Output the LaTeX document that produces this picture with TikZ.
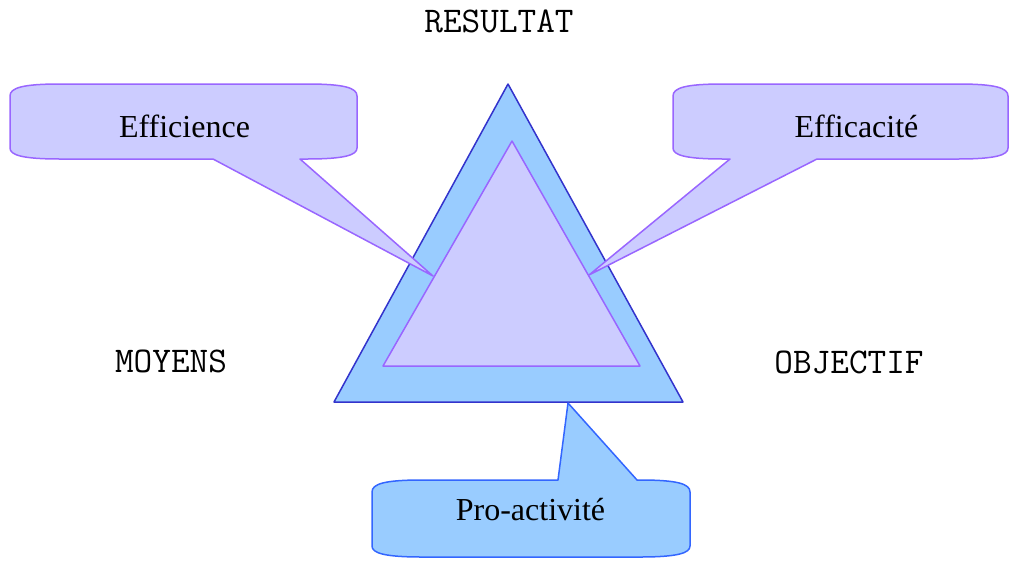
\documentclass[tikz,border=0pt]{standalone}
\usepackage{fontspec}
\setmainfont{Liberation Serif}
\definecolor{outerfill}{HTML}{99CCFF}
\definecolor{outerline}{HTML}{3333CC}
\definecolor{innerfill}{HTML}{CCCCFF}
\definecolor{innerline}{HTML}{9966FF}
\definecolor{proline}{HTML}{3366FF}
\begin{document}
\begin{tikzpicture}[x=1pt,y=-1pt,line join=round,
  bigtext/.style={font=\fontsize{32}{38}\selectfont,anchor=base,inner sep=0pt},
  monotext/.style={font=\ttfamily\fontsize{36.2}{42}\selectfont,anchor=base,inner sep=0pt},
  lilac/.style={fill=innerfill,draw=innerline,line width=1.5pt},
  skyblue/.style={fill=outerfill,draw=proline,line width=1.5pt}]
\useasboundingbox (0,0) rectangle (1009,560);
% outer triangle
\coordinate (oa) at (508,84);
\coordinate (ol) at (334,402);
\coordinate (or) at (683,402);
\draw[fill=outerfill,draw=outerline,line width=1.5pt] (oa) -- (ol) -- (or) -- cycle;
% tips
\coordinate (t1) at (433,276);
\coordinate (t2) at (589,275);
\coordinate (t3) at (568,403);
% Efficience callout
\draw[lilac] (60,84) -- (307,84) .. controls (345,84) and (357,88) .. (357,96)
  -- (357,148) .. controls (357,155) and (345,159) .. (307,159)
  -- (300,159) -- (t1) -- (213,159) -- (60,159)
  .. controls (22,159) and (10,155) .. (10,148) -- (10,96)
  .. controls (10,88) and (22,84) .. (60,84) -- cycle;
% Efficacite callout
\draw[lilac] (723,84) -- (958,84) .. controls (996,84) and (1008,88) .. (1008,96)
  -- (1008,148) .. controls (1008,155) and (996,159) .. (958,159)
  -- (817,159) -- (t2) -- (730,159) -- (723,159)
  .. controls (685,159) and (673,155) .. (673,148) -- (673,96)
  .. controls (673,88) and (685,84) .. (723,84) -- cycle;
% inner triangle
\coordinate (ia) at (512,141);
\coordinate (il) at (383,366);
\coordinate (ir) at (640,366);
\draw[lilac] (ia) -- (il) -- (ir) -- cycle;
% Pro-activite callout
\draw[skyblue] (422,480) -- (558,480) -- (t3) -- (637,480) -- (640,480)
  .. controls (678,480) and (690,484) .. (690,492)
  -- (690,546) .. controls (690,553) and (678,557) .. (640,557)
  -- (422,557) .. controls (384,557) and (372,553) .. (372,546)
  -- (372,492) .. controls (372,484) and (384,480) .. (422,480) -- cycle;
% texts
\node[bigtext] (eff) at (184.5,137) {Efficience};
\node[bigtext] (efc) at (856.5,137) {Efficacité};
\node[bigtext] (pro) at (530.5,520.5) {Pro-activité};
\node[monotext] (res) at (499,32) {RESULTAT};
\node[monotext] (moy) at (171,372) {MOYENS};
\node[monotext] (obj) at (849,373) {OBJECTIF};
\end{tikzpicture}
\end{document}
